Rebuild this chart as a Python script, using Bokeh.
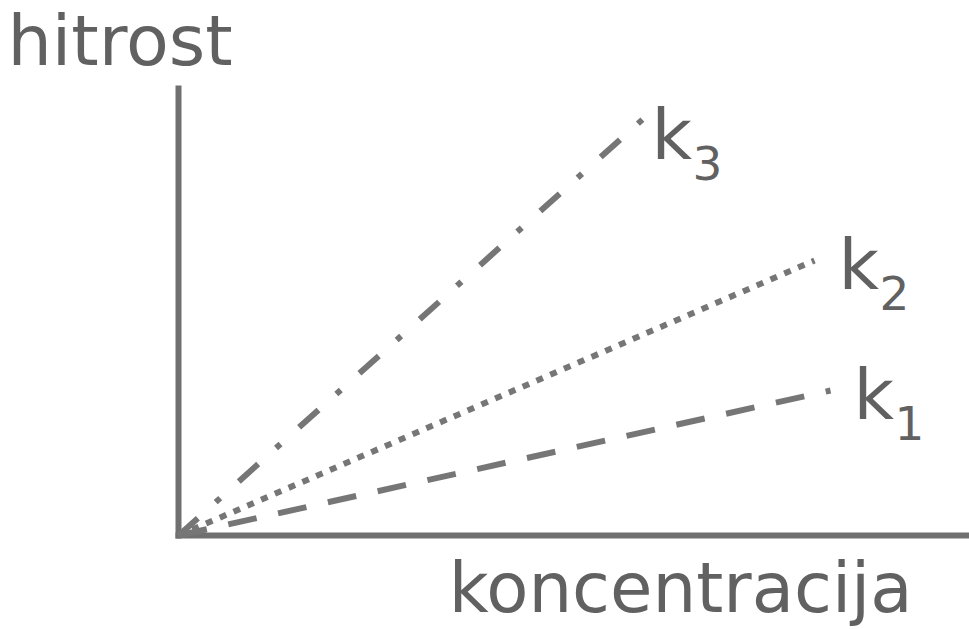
from bokeh.plotting import figure
from bokeh.models import Range1d
from bokeh.core.properties import value
from bokeh.embed import file_html
from bokeh.resources import INLINE

# data (arbitrary units: concentration vs rate)
series = ["k1", "k2", "k3"]
sub_digits = ["1", "2", "3"]
conc_end = [13.04, 12.72, 9.28]
rate_end = [2.90, 5.50, 8.32]
dashes = ["29 22", "7 8", "26 24 6 25"]
y_axis_max = 9.0
x_axis_max = 15.9
x_title = "koncentracija"
y_title = "hitrost"

S = 50.0  # pixels per data unit
LINE_C = "#767676"
AXIS_C = "#707070"
TEXT_C = "#616161"
FONT = value("DejaVu Sans")
BIG, SMALL = 70, 47
# empirical correction of the rendered baseline (fraction of font size)
BASE_FIX = 0.386

p = figure(width=969, height=629, output_backend="svg", toolbar_location=None,
           x_range=Range1d(-3.56, 15.82), y_range=Range1d(-1.88, 10.7),
           x_axis_type=None, y_axis_type=None, min_border=0)
p.min_border_left = p.min_border_right = p.min_border_top = p.min_border_bottom = 0
p.grid.visible = False
p.outline_line_color = None
p.background_fill_color = "white"
p.border_fill_color = "white"

# axes
p.line([0, 0], [-0.06, y_axis_max], line_color=AXIS_C, line_width=6, line_cap="butt")
p.line([-0.06, x_axis_max], [0, 0], line_color=AXIS_C, line_width=6, line_cap="butt")

# rate lines
for xe, ye, d in zip(conc_end, rate_end, dashes):
    p.line([0, xe], [0, ye], line_color=LINE_C, line_width=6, line_dash=d, line_cap="butt")

big_fix = BASE_FIX * BIG / S
small_fix = BASE_FIX * SMALL / S

# labels k with subscripts
lab_dx = [23, 24, 9]      # px from line end
lab_dy = [32, 32, 43]     # px below line end (baseline)
kx = [xe + dx / S for xe, dx in zip(conc_end, lab_dx)]
ky = [ye - dy / S for ye, dy in zip(rate_end, lab_dy)]
p.text(x=kx, y=[y + big_fix for y in ky], text=["k"] * 3, text_font=FONT,
       text_font_size=value(f"{BIG}px"), text_color=TEXT_C,
       text_baseline="alphabetic", text_align="left")
sx = [x + 41 / S for x in kx]
sy = [y - 19 / S + small_fix for y in ky]
p.text(x=sx, y=sy, text=sub_digits, text_font=FONT, text_font_size=value(f"{SMALL}px"),
       text_color=TEXT_C, text_baseline="alphabetic", text_align="left")

# axis titles
p.text(x=[-3.42], y=[9.34 + big_fix], text=[y_title], text_font=FONT,
       text_font_size=value(f"{BIG}px"), text_color=TEXT_C,
       text_baseline="alphabetic", text_align="left")
p.text(x=[14.68], y=[-1.6 + big_fix], text=[x_title], text_font=FONT,
       text_font_size=value("69px"), text_color=TEXT_C,
       text_baseline="alphabetic", text_align="right")

open("out.html", "w").write(file_html(p, INLINE))
